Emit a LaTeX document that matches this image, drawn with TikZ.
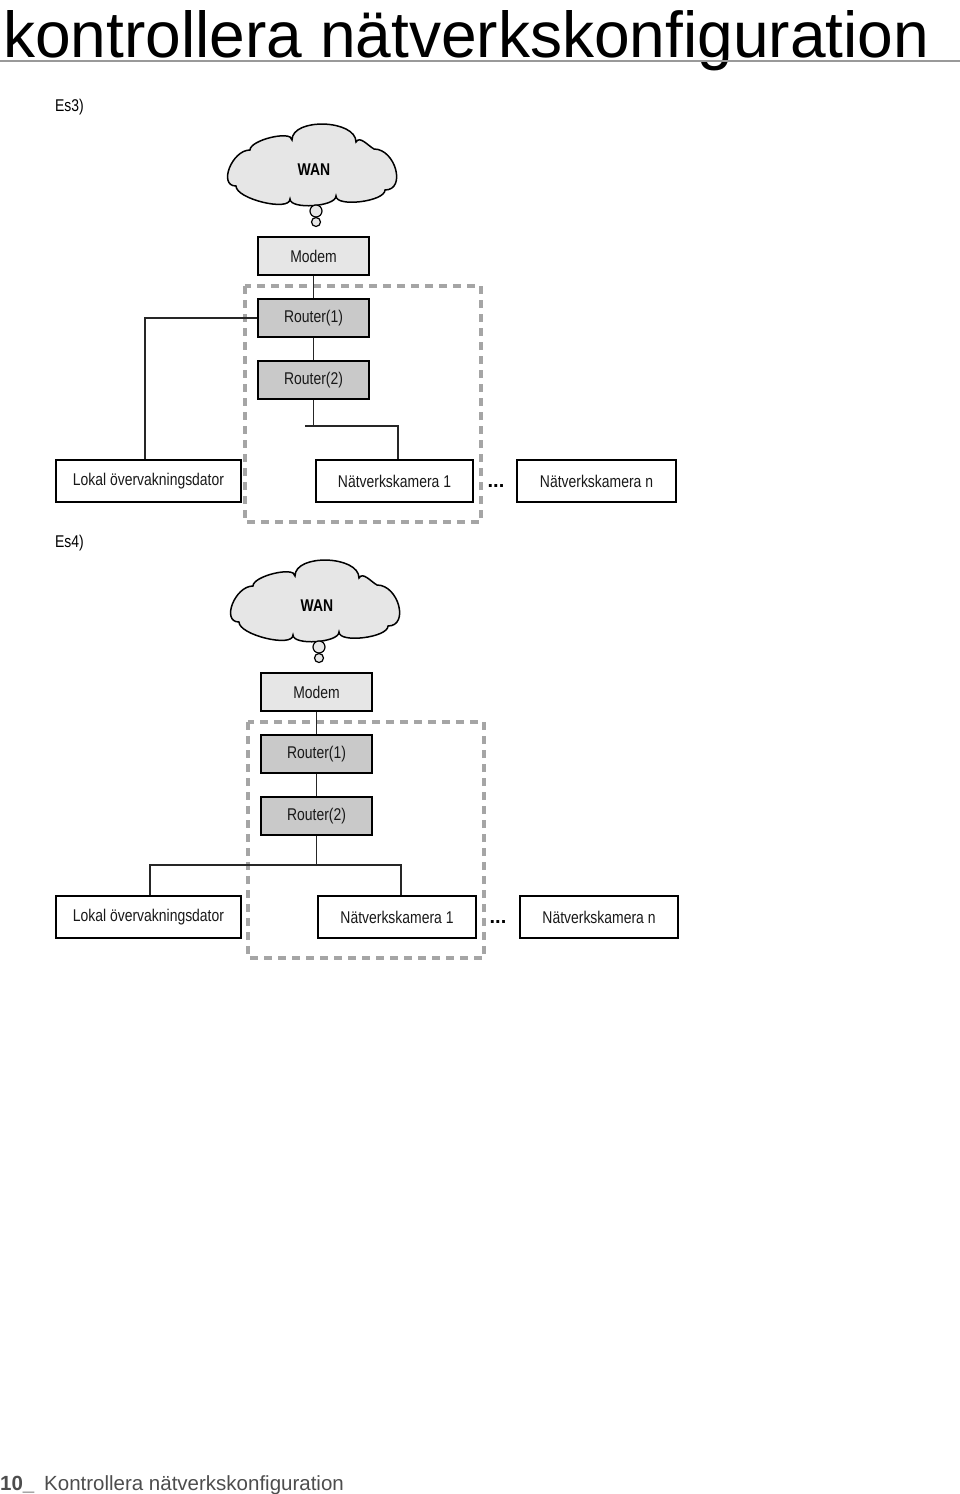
\documentclass[tikz,border=0pt]{standalone}
\usepackage{fontspec}
\setmainfont{Liberation Sans}
\usepackage{graphicx}
\definecolor{modemfill}{HTML}{E6E6E6}
\definecolor{routerfill}{HTML}{C9C9C9}
\definecolor{dashgray}{HTML}{A5A5A5}
\definecolor{footgray}{HTML}{4D4D4D}
\newcommand{\cnd}[1]{\scalebox{0.82}[1]{#1}}
\tikzset{
 box/.style={draw=black, line width=1.4pt, rectangle, inner sep=0pt, font=\fontsize{17}{20}\selectfont, text=black!90},
 modembox/.style={box, fill=modemfill, minimum width=111pt, minimum height=38pt},
 routerbox/.style={box, fill=routerfill, minimum width=111pt, minimum height=38pt},
 endbox/.style={box, fill=white, minimum height=42pt},
 conn/.style={line width=1.4pt, black!85},
 groupbox/.style={draw=dashgray, line width=3.5pt, dash pattern=on 8pt off 6pt},
 bubble/.style={circle, draw=black, line width=1.2pt, fill=modemfill, inner sep=0pt},
 lbl/.style={font=\fontsize{17}{20}\selectfont, inner sep=0pt},
 cloudpic/.pic={
  \draw[line width=1.5pt, fill=modemfill] (-78,19) to[out=180,in=180,looseness=1.2] (-64,-17)
   to[out=90,in=90,looseness=0.6] (-22,-27)
   to[out=90,in=90,looseness=0.9] (42,-25)
   to[out=60,in=150] (60,-18)
   to[out=0,in=0,looseness=1.3] (71,23)
   to[out=-90,in=-90,looseness=0.6] (22,29)
   to[out=-90,in=-90,looseness=0.6] (-24,32)
   to[out=-90,in=-90,looseness=0.6] (-78,19) -- cycle;
 }
}
\begin{document}
\begin{tikzpicture}[x=1pt,y=-1pt]
\useasboundingbox (0,0) rectangle (960,1494);
% title
\node[anchor=base west, inner sep=0pt] (title) at (3,57) {\resizebox{926pt}{47pt}{\fontsize{64}{70}\selectfont kontrollera nätverkskonfiguration}};
\draw[line width=2pt, black!40] (0,61) -- (960,61);

% ---------- Es3 ----------
\node[lbl, anchor=base west] (es3) at (55,111) {\cnd{Es3)}};
\pic (cl1) at (314,167) {cloudpic};
\node[lbl, font=\fontsize{17}{20}\selectfont\bfseries] (wan1) at (314,170) {\cnd{WAN}};
\node[bubble, minimum size=12pt] (b1a) at (316,211) {};
\node[bubble, minimum size=9pt] (b1b) at (316,222) {};
\draw[groupbox] (245,286) rectangle (481,522);
\node[modembox] (modem1) at (313.5,256) {\cnd{Modem}};
\node[routerbox] (r11) at (313.5,318) {\cnd{Router(1)}};
\node[routerbox] (r12) at (313.5,380) {\cnd{Router(2)}};
\node[endbox, minimum width=185pt] (lokal1) at (148.5,481) {\cnd{Lokal övervakningsdator}};
\node[endbox, minimum width=157pt] (cam11) at (394.5,481) {\cnd{Nätverkskamera 1}};
\node[endbox, minimum width=159pt] (cam1n) at (596.5,481) {\cnd{Nätverkskamera n}};
\node[lbl, font=\fontsize{20}{20}\selectfont\bfseries] (dots1) at (496,486) {...};
\draw[conn] (modem1) -- (r11);
\draw[conn] (r11) -- (r12);
\draw[conn] (r11.west) -| ([xshift=-3.5pt]lokal1.north);
\coordinate (j1L) at (305,426);
\draw[conn] (r12.south) -- (r12.south |- j1L);
\draw[conn] (j1L) -| ([xshift=3.5pt]cam11.north);

% ---------- Es4 ----------
\node[lbl, anchor=base west] (es4) at (55,547) {\cnd{Es4)}};
\pic (cl2) at (317,603) {cloudpic};
\node[lbl, font=\fontsize{17}{20}\selectfont\bfseries] (wan2) at (317,606) {\cnd{WAN}};
\node[bubble, minimum size=12pt] (b2a) at (319,647) {};
\node[bubble, minimum size=9pt] (b2b) at (319,658) {};
\draw[groupbox] (248,722) rectangle (484,958);
\node[modembox] (modem2) at (316.5,692) {\cnd{Modem}};
\node[routerbox] (r21) at (316.5,754) {\cnd{Router(1)}};
\node[routerbox] (r22) at (316.5,816) {\cnd{Router(2)}};
\node[endbox, minimum width=185pt] (lokal2) at (148.5,917) {\cnd{Lokal övervakningsdator}};
\node[endbox, minimum width=158pt] (cam21) at (397,917) {\cnd{Nätverkskamera 1}};
\node[endbox, minimum width=158pt] (cam2n) at (599,917) {\cnd{Nätverkskamera n}};
\node[lbl, font=\fontsize{20}{20}\selectfont\bfseries] (dots2) at (498,922) {...};
\draw[conn] (modem2) -- (r21);
\draw[conn] (r21) -- (r22);
\coordinate (j2) at (316.5,865);
\draw[conn] (r22.south) -- (j2);
\draw[conn] ([xshift=1.5pt]lokal2.north) |- (j2) -| ([xshift=4pt]cam21.north);

% footer
\node[anchor=base west, inner sep=0pt, font=\fontsize{20.5}{24}\selectfont\bfseries, text=footgray] (pg) at (0,1490) {10\_};
\node[anchor=base west, inner sep=0pt, font=\fontsize{20.5}{24}\selectfont, text=footgray] (foot) at (44,1490) {Kontrollera nätverkskonfiguration};
\end{tikzpicture}
\end{document}
